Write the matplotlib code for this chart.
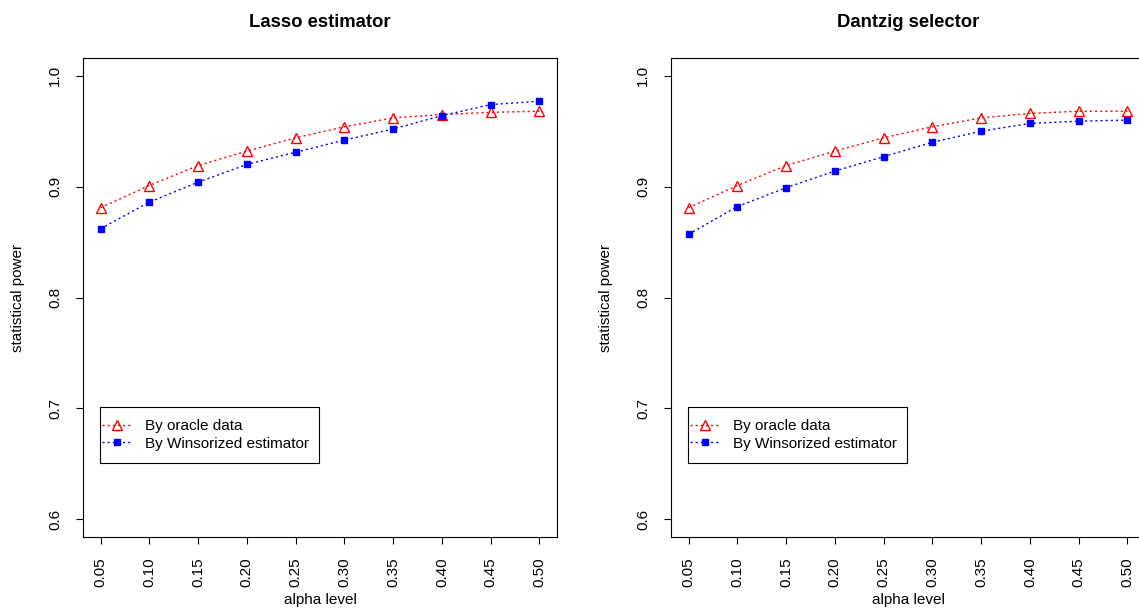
import numpy as np
import matplotlib
matplotlib.use("Agg")
import matplotlib.pyplot as plt
from matplotlib.patches import Rectangle

plt.rcParams['font.family'] = ['Liberation Sans', 'DejaVu Sans']

# alpha levels on the x axis
alpha_levels = [0.05, 0.10, 0.15, 0.20, 0.25, 0.30, 0.35, 0.40, 0.45, 0.50]
alpha_labels = ["0.05", "0.10", "0.15", "0.20", "0.25", "0.30", "0.35", "0.40", "0.45", "0.50"]
power_ticks = [0.6, 0.7, 0.8, 0.9, 1.0]

# Lasso estimator panel
lasso_oracle = [0.881, 0.901, 0.919, 0.932, 0.944, 0.954, 0.962, 0.965, 0.967, 0.968]
lasso_wins = [0.862, 0.886, 0.904, 0.920, 0.931, 0.942, 0.952, 0.964, 0.974, 0.977]

# Dantzig selector panel
dantzig_oracle = [0.881, 0.901, 0.919, 0.932, 0.944, 0.954, 0.962, 0.966, 0.968, 0.968]
dantzig_wins = [0.857, 0.882, 0.899, 0.914, 0.927, 0.940, 0.950, 0.957, 0.959, 0.960]

titles = ["Lasso estimator", "Dantzig selector"]

W, H = 1139, 609
fig = plt.figure(figsize=(W / 100, H / 100), dpi=100)

def draw_panel(ax, title, oracle, wins):
    ax.plot(alpha_levels, oracle, color='red', linestyle=(0, (1.5, 2.2)), linewidth=1,
            marker='^', markersize=7, markerfacecolor='none', markeredgecolor='red',
            markeredgewidth=1, label='By oracle data')
    ax.plot(alpha_levels, wins, color='blue', linestyle=(0, (1.5, 2.2)), linewidth=1,
            marker='s', markersize=5, markerfacecolor='blue', markeredgecolor='blue',
            label='By Winsorized estimator')
    ax.set_xlim(0.032, 0.518)
    ax.set_ylim(0.584, 1.016)
    ax.set_xticks(alpha_levels)
    ax.set_xticklabels(alpha_labels, rotation=90)
    ax.set_yticks(power_ticks)
    ax.set_yticklabels([str(t) for t in power_ticks], rotation=90, va='center')
    ax.tick_params(direction='out', length=5, width=0.8, pad=10, labelsize=11)
    for sp in ax.spines.values():
        sp.set_linewidth(0.8)
    ax.set_title(title, fontsize=13.3, fontweight='bold', pad=22)
    ax.set_xlabel('alpha level', fontsize=11)
    ax.set_ylabel('statistical power', fontsize=11)
    ax.xaxis.set_label_coords(0.5, -0.117)
    ax.yaxis.set_label_coords(-0.122, 0.5)

    # legend box drawn like R's legend(): frame + entries
    ax.add_patch(Rectangle((0.0359, 0.1545), 0.462, 0.117, transform=ax.transAxes,
                           facecolor='white', edgecolor='black', linewidth=0.8, zorder=4))
    leg = ax.legend(loc='center left', bbox_to_anchor=(0.040, 0.213), borderaxespad=0,
                    fontsize=11, frameon=False, handlelength=1.95, handletextpad=0.85,
                    labelspacing=0.22, borderpad=0)
    leg.set_zorder(5)

panel_data = [(lasso_oracle, lasso_wins), (dantzig_oracle, dantzig_wins)]
lefts = [83, 671]
for left, title, (oracle, wins) in zip(lefts, titles, panel_data):
    ax = fig.add_axes([left / W, (H - 537) / H, 474 / W, 479 / H])
    draw_panel(ax, title, oracle, wins)

fig.savefig('out.png', dpi=100)
